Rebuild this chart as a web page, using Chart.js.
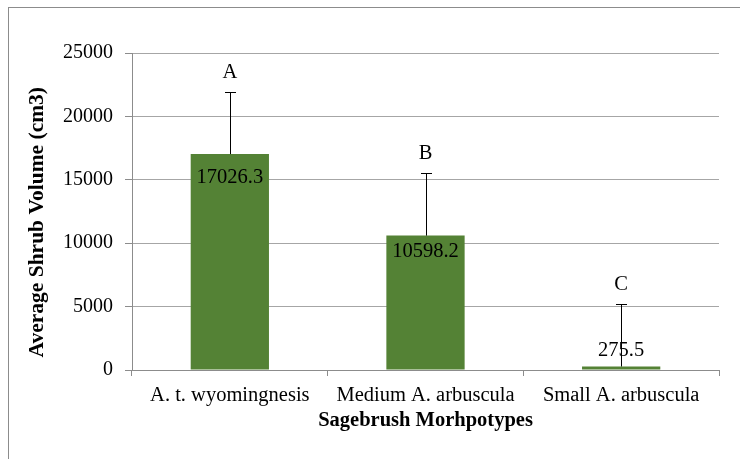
<!DOCTYPE html>
<html>
<head>
<meta charset="utf-8">
<script src="https://cdn.jsdelivr.net/npm/chart.js@4"></script>
<style>
  body { margin: 0; background: #fff; }
  canvas { display: block; }
</style>
</head>
<body>
<canvas id="chart" width="740" height="459"></canvas>
<script>
// Datos del gráfico
const categories = ['A. t. wyomingnesis', 'Medium A. arbuscula', 'Small A. arbuscula'];
const meanVolume = [17026.3, 10598.2, 275.5];
const errorUp = [4860, 4900, 4900];
const groupLetters = ['A', 'B', 'C'];
const yMin = 0;
const yMax = 25000;
const yStep = 5000;

const serif = "'Liberation Serif', 'Times New Roman', serif";

// Marco gris alrededor del gráfico
const framePlugin = {
    id: 'frame',
    beforeDraw(chart) {
        const ctx = chart.ctx;
        ctx.save();
        ctx.fillStyle = '#fff';
        ctx.fillRect(0, 0, chart.width, chart.height);
        ctx.strokeStyle = '#8c8c8c';
        ctx.lineWidth = 1;
        ctx.strokeRect(8.5, 7.5, 800, 800);
        ctx.restore();
    }
};

// Barras de error, letras y etiquetas de valor
const errorBarPlugin = {
    id: 'errorBars',
    afterDatasetsDraw(chart, args, opts) {
        const ctx = chart.ctx;
        const y = chart.scales.y;
        const meta = chart.getDatasetMeta(0);
        ctx.save();
        ctx.font = '20.5px ' + serif;
        ctx.fillStyle = '#000';
        ctx.textAlign = 'center';
        ctx.textBaseline = 'middle';

        meta.data.forEach((bar, i) => {
            const barTop = y.getPixelForValue(meanVolume[i]);
            ctx.fillText(meanVolume[i].toFixed(1), bar.x, barTop + opts.labelShift[i]);
        });

        meta.data.forEach((bar, i) => {
            const x = Math.round(bar.x) + 0.5;
            const base = y.getPixelForValue(meanVolume[i]);
            const top = Math.round(y.getPixelForValue(meanVolume[i] + errorUp[i])) + 0.5;
            ctx.strokeStyle = '#000';
            ctx.lineWidth = 1;
            ctx.beginPath();
            ctx.moveTo(x, base);
            ctx.lineTo(x, top);
            ctx.moveTo(x - 5.5, top);
            ctx.lineTo(x + 5.5, top);
            ctx.stroke();
            ctx.fillText(groupLetters[i], bar.x, top - 20);
        });
        ctx.restore();
    }
};

const ctx = document.getElementById('chart').getContext('2d');
const chart = new Chart(ctx, {
    type: 'bar',
    data: {
        labels: categories,
        datasets: [{
            data: meanVolume,
            backgroundColor: '#548235',
            borderWidth: 0,
            barPercentage: 1,
            categoryPercentage: 0.4
        }]
    },
    options: {
        responsive: false,
        animation: false,
        layout: {
            padding: { left: 8, top: 53, right: 21, bottom: 0 }
        },
        plugins: {
            legend: { display: false },
            tooltip: { enabled: false },
            errorBars: { labelShift: [24, 16, -16] }
        },
        scales: {
            x: {
                grid: {
                    display: true,
                    drawOnChartArea: false,
                    drawTicks: true,
                    tickLength: 6,
                    tickColor: '#8c8c8c',
                    offset: true
                },
                border: { color: '#8c8c8c' },
                ticks: {
                    color: '#000',
                    font: { family: serif, size: 20.5 },
                    padding: 7,
                    maxRotation: 0
                },
                title: {
                    display: true,
                    text: 'Sagebrush Morhpotypes',
                    color: '#000',
                    font: { family: serif, size: 20.5, weight: 'bold' },
                    padding: { top: 0, bottom: 26 }
                },
                afterFit(scale) { scale.height = 89; }
            },
            y: {
                min: yMin,
                max: yMax,
                grid: {
                    color: '#a6a6a6',
                    tickColor: '#8c8c8c',
                    tickLength: 7
                },
                border: { color: '#8c8c8c' },
                ticks: {
                    stepSize: yStep,
                    color: '#000',
                    font: { family: serif, size: 20 },
                    padding: 12,
                    callback: value => String(value)
                },
                title: {
                    display: true,
                    // espacios finales para bajar un poco el título
                    text: 'Average Shrub Volume (cm3)    ',
                    color: '#000',
                    font: { family: serif, size: 21.5, weight: 'bold' },
                    padding: { top: 17, bottom: 0 }
                },
                afterFit(scale) { scale.width = 124; }
            }
        }
    },
    plugins: [framePlugin, errorBarPlugin]
});
</script>
</body>
</html>
